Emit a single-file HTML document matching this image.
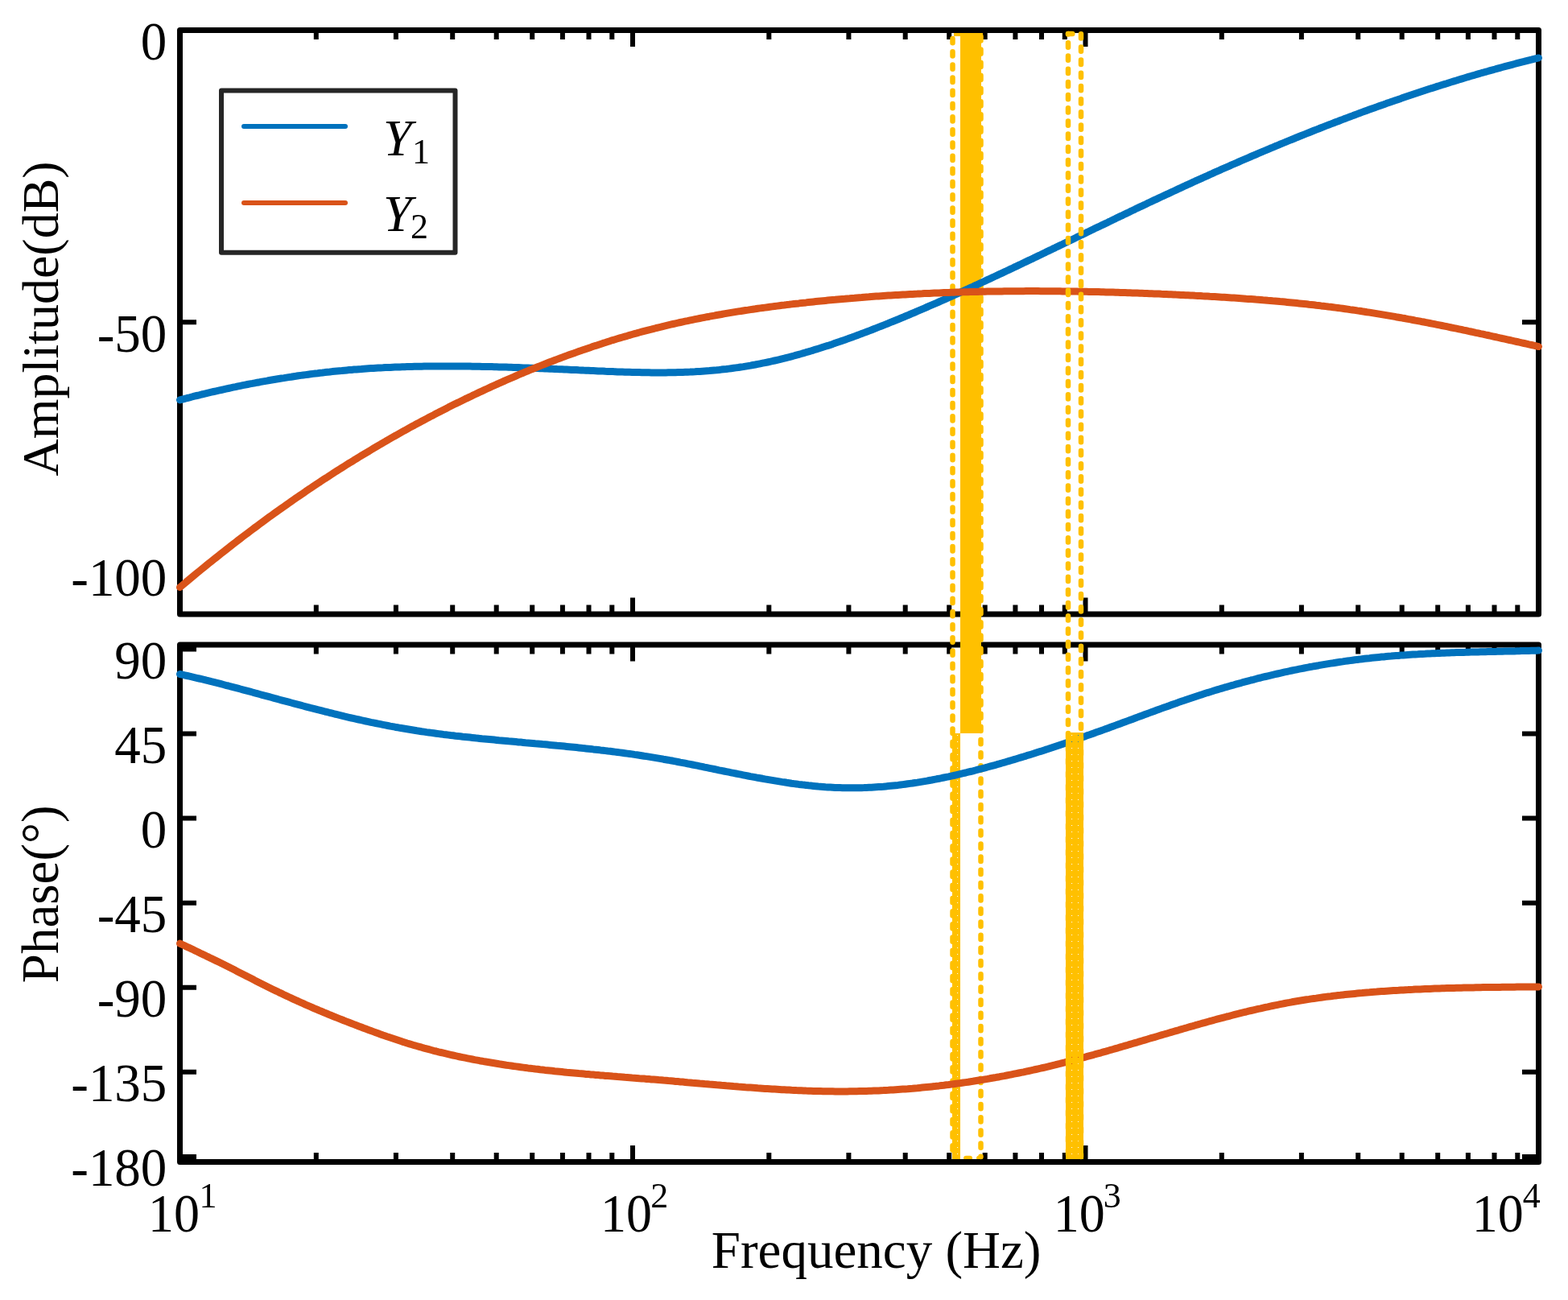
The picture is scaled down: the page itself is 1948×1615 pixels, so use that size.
<!DOCTYPE html>
<html><head><meta charset="utf-8"><title>Bode plot</title>
<style>html,body{margin:0;padding:0;background:#fff;}svg{display:block;}text{font-family:"Liberation Serif","Times New Roman",serif;fill:#000;}</style></head><body>
<svg width="1948" height="1615" viewBox="0 0 1948 1615">
<defs><pattern id="holes" x="0" y="0" width="8.1" height="8" patternUnits="userSpaceOnUse"><rect width="8.1" height="8" fill="#fff"/><rect x="0" y="0" width="1" height="1" fill="#000"/></pattern><mask id="mA" maskUnits="userSpaceOnUse" x="0" y="0" width="1948" height="1615"><rect x="0" y="0" width="1948" height="1615" fill="#fff"/><g transform="translate(1189 913)"><rect x="0" y="0" width="2" height="530" fill="url(#holes)"/></g></mask><mask id="mB" maskUnits="userSpaceOnUse" x="0" y="0" width="1948" height="1615"><rect x="0" y="0" width="1948" height="1615" fill="#fff"/><g transform="translate(1331 913)"><rect x="0" y="0" width="10" height="530" fill="url(#holes)"/></g></mask></defs>
<rect x="0" y="0" width="1948" height="1615" fill="#fff"/>
<g stroke="#FFC000" stroke-width="6.5" stroke-linecap="round" fill="none"><path d="M1200.3 1439H1204.8M1216.3 1439H1218.5"/></g>
<path d="M223.5 37.5V58.0M223.5 763.0V742.5M392.8 37.5V49.0M392.8 763.0V751.5M491.9 37.5V49.0M491.9 763.0V751.5M562.2 37.5V49.0M562.2 763.0V751.5M616.7 37.5V49.0M616.7 763.0V751.5M661.2 37.5V49.0M661.2 763.0V751.5M698.9 37.5V49.0M698.9 763.0V751.5M731.5 37.5V49.0M731.5 763.0V751.5M760.3 37.5V49.0M760.3 763.0V751.5M786.0 37.5V58.0M786.0 763.0V742.5M955.3 37.5V49.0M955.3 763.0V751.5M1054.4 37.5V49.0M1054.4 763.0V751.5M1124.7 37.5V49.0M1124.7 763.0V751.5M1179.2 37.5V49.0M1179.2 763.0V751.5M1223.7 37.5V49.0M1223.7 763.0V751.5M1261.4 37.5V49.0M1261.4 763.0V751.5M1294.0 37.5V49.0M1294.0 763.0V751.5M1322.8 37.5V49.0M1322.8 763.0V751.5M1348.5 37.5V58.0M1348.5 763.0V742.5M1517.8 37.5V49.0M1517.8 763.0V751.5M1616.9 37.5V49.0M1616.9 763.0V751.5M1687.2 37.5V49.0M1687.2 763.0V751.5M1741.7 37.5V49.0M1741.7 763.0V751.5M1786.2 37.5V49.0M1786.2 763.0V751.5M1823.9 37.5V49.0M1823.9 763.0V751.5M1856.5 37.5V49.0M1856.5 763.0V751.5M1885.3 37.5V49.0M1885.3 763.0V751.5M1911.0 37.5V58.0M1911.0 763.0V742.5M223.5 801.0V821.5M223.5 1443.5V1423.0M392.8 801.0V812.5M392.8 1443.5V1432.0M491.9 801.0V812.5M491.9 1443.5V1432.0M562.2 801.0V812.5M562.2 1443.5V1432.0M616.7 801.0V812.5M616.7 1443.5V1432.0M661.2 801.0V812.5M661.2 1443.5V1432.0M698.9 801.0V812.5M698.9 1443.5V1432.0M731.5 801.0V812.5M731.5 1443.5V1432.0M760.3 801.0V812.5M760.3 1443.5V1432.0M786.0 801.0V821.5M786.0 1443.5V1423.0M955.3 801.0V812.5M955.3 1443.5V1432.0M1054.4 801.0V812.5M1054.4 1443.5V1432.0M1124.7 801.0V812.5M1124.7 1443.5V1432.0M1179.2 801.0V812.5M1179.2 1443.5V1432.0M1223.7 801.0V812.5M1223.7 1443.5V1432.0M1261.4 801.0V812.5M1261.4 1443.5V1432.0M1294.0 801.0V812.5M1294.0 1443.5V1432.0M1322.8 801.0V812.5M1322.8 1443.5V1432.0M1348.5 801.0V821.5M1348.5 1443.5V1423.0M1517.8 801.0V812.5M1517.8 1443.5V1432.0M1616.9 801.0V812.5M1616.9 1443.5V1432.0M1687.2 801.0V812.5M1687.2 1443.5V1432.0M1741.7 801.0V812.5M1741.7 1443.5V1432.0M1786.2 801.0V812.5M1786.2 1443.5V1432.0M1823.9 801.0V812.5M1823.9 1443.5V1432.0M1856.5 801.0V812.5M1856.5 1443.5V1432.0M1885.3 801.0V812.5M1885.3 1443.5V1432.0M1911.0 801.0V821.5M1911.0 1443.5V1423.0M223.5 37.5H244.0M1911.5 37.5H1891.0M223.5 400.3H244.0M1911.5 400.3H1891.0M223.5 763.0H244.0M1911.5 763.0H1891.0M223.5 806.5H244.0M1911.5 806.5H1891.0M223.5 911.6H244.0M1911.5 911.6H1891.0M223.5 1016.6H244.0M1911.5 1016.6H1891.0M223.5 1121.7H244.0M1911.5 1121.7H1891.0M223.5 1226.8H244.0M1911.5 1226.8H1891.0M223.5 1331.8H244.0M1911.5 1331.8H1891.0M223.5 1436.9H244.0M1911.5 1436.9H1891.0" stroke="#000" stroke-width="6" fill="none"/>
<rect x="223.5" y="37.5" width="1688.0" height="725.5" fill="none" stroke="#000" stroke-width="7" stroke-linejoin="round"/>
<rect x="223.5" y="801.0" width="1688.0" height="642.5" fill="none" stroke="#000" stroke-width="7" stroke-linejoin="round"/>
<g fill="#FFC000"><rect x="1193" y="41" width="26" height="870"/><rect x="1185" y="41" width="36" height="4"/></g>
<rect x="1183" y="911" width="10" height="529" fill="#FFC000" mask="url(#mA)"/>
<g stroke="#FFC000" stroke-dasharray="5.3 10.88" stroke-linecap="round" stroke-width="6.5" fill="none"><path d="M1183.5 42L1183.5 1437" stroke-dashoffset="10.11"/><path d="M1218.5 42L1218.5 1437" stroke-dashoffset="12.91"/></g>
<g fill="none" stroke-width="9" stroke-linecap="round" stroke-linejoin="round">
<path d="M223.5 496.9 L226.5 496.1 L229.5 495.3 L232.5 494.5 L235.5 493.8 L238.5 493.0 L241.5 492.2 L244.5 491.5 L247.5 490.8 L250.5 490.0 L253.5 489.3 L256.5 488.6 L259.5 487.9 L262.5 487.2 L265.5 486.5 L268.6 485.8 L271.6 485.1 L274.6 484.5 L277.6 483.8 L280.6 483.1 L283.6 482.5 L286.6 481.8 L289.6 481.2 L292.6 480.6 L295.6 479.9 L298.6 479.3 L301.6 478.7 L304.6 478.1 L307.6 477.5 L310.6 476.9 L313.6 476.4 L316.6 475.8 L319.6 475.2 L322.6 474.7 L325.6 474.1 L328.6 473.6 L331.6 473.1 L334.6 472.5 L337.6 472.0 L340.6 471.5 L343.6 471.0 L346.6 470.5 L349.6 470.0 L352.7 469.6 L355.7 469.1 L358.7 468.6 L361.7 468.2 L364.7 467.7 L367.7 467.3 L370.7 466.8 L373.7 466.4 L376.7 466.0 L379.7 465.6 L382.7 465.2 L385.7 464.8 L388.7 464.4 L391.7 464.0 L394.7 463.7 L397.7 463.3 L400.7 463.0 L403.7 462.6 L406.7 462.3 L409.7 462.0 L412.7 461.6 L415.7 461.3 L418.7 461.0 L421.7 460.7 L424.7 460.5 L427.7 460.2 L430.7 459.9 L433.7 459.6 L436.8 459.4 L439.8 459.1 L442.8 458.9 L445.8 458.7 L448.8 458.5 L451.8 458.2 L454.8 458.0 L457.8 457.8 L460.8 457.6 L463.8 457.5 L466.8 457.3 L469.8 457.1 L472.8 456.9 L475.8 456.8 L478.8 456.6 L481.8 456.5 L484.8 456.4 L487.8 456.2 L490.8 456.1 L493.8 456.0 L496.8 455.9 L499.8 455.8 L502.8 455.7 L505.8 455.6 L508.8 455.5 L511.8 455.4 L514.8 455.3 L517.8 455.3 L520.9 455.2 L523.9 455.2 L526.9 455.1 L529.9 455.1 L532.9 455.0 L535.9 455.0 L538.9 455.0 L541.9 454.9 L544.9 454.9 L547.9 454.9 L550.9 454.9 L553.9 454.9 L556.9 454.9 L559.9 454.9 L562.9 454.9 L565.9 454.9 L568.9 454.9 L571.9 455.0 L574.9 455.0 L577.9 455.0 L580.9 455.1 L583.9 455.1 L586.9 455.2 L589.9 455.2 L592.9 455.3 L595.9 455.3 L598.9 455.4 L601.9 455.4 L605.0 455.5 L608.0 455.6 L611.0 455.6 L614.0 455.7 L617.0 455.8 L620.0 455.9 L623.0 456.0 L626.0 456.0 L629.0 456.1 L632.0 456.2 L635.0 456.3 L638.0 456.4 L641.0 456.5 L644.0 456.6 L647.0 456.7 L650.0 456.9 L653.0 457.0 L656.0 457.1 L659.0 457.2 L662.0 457.3 L665.0 457.4 L668.0 457.5 L671.0 457.7 L674.0 457.8 L677.0 457.9 L680.0 458.0 L683.0 458.2 L686.0 458.3 L689.1 458.4 L692.1 458.6 L695.1 458.7 L698.1 458.8 L701.1 459.0 L704.1 459.1 L707.1 459.2 L710.1 459.4 L713.1 459.5 L716.1 459.6 L719.1 459.8 L722.1 459.9 L725.1 460.1 L728.1 460.2 L731.1 460.3 L734.1 460.5 L737.1 460.6 L740.1 460.7 L743.1 460.9 L746.1 461.0 L749.1 461.1 L752.1 461.3 L755.1 461.4 L758.1 461.5 L761.1 461.6 L764.1 461.7 L767.1 461.9 L770.1 462.0 L773.2 462.1 L776.2 462.2 L779.2 462.3 L782.2 462.3 L785.2 462.4 L788.2 462.5 L791.2 462.6 L794.2 462.6 L797.2 462.7 L800.2 462.8 L803.2 462.8 L806.2 462.8 L809.2 462.9 L812.2 462.9 L815.2 462.9 L818.2 462.9 L821.2 462.9 L824.2 462.9 L827.2 462.9 L830.2 462.8 L833.2 462.8 L836.2 462.7 L839.2 462.7 L842.2 462.6 L845.2 462.5 L848.2 462.4 L851.2 462.3 L854.2 462.2 L857.3 462.1 L860.3 461.9 L863.3 461.8 L866.3 461.6 L869.3 461.4 L872.3 461.2 L875.3 461.0 L878.3 460.8 L881.3 460.6 L884.3 460.3 L887.3 460.0 L890.3 459.8 L893.3 459.5 L896.3 459.1 L899.3 458.8 L902.3 458.5 L905.3 458.1 L908.3 457.7 L911.3 457.3 L914.3 456.9 L917.3 456.5 L920.3 456.0 L923.3 455.6 L926.3 455.1 L929.3 454.6 L932.3 454.1 L935.3 453.5 L938.3 453.0 L941.4 452.4 L944.4 451.8 L947.4 451.2 L950.4 450.6 L953.4 450.0 L956.4 449.3 L959.4 448.7 L962.4 448.0 L965.4 447.3 L968.4 446.6 L971.4 445.8 L974.4 445.1 L977.4 444.3 L980.4 443.6 L983.4 442.8 L986.4 442.0 L989.4 441.1 L992.4 440.3 L995.4 439.5 L998.4 438.6 L1001.4 437.7 L1004.4 436.9 L1007.4 436.0 L1010.4 435.1 L1013.4 434.1 L1016.4 433.2 L1019.4 432.3 L1022.4 431.3 L1025.5 430.3 L1028.5 429.4 L1031.5 428.4 L1034.5 427.4 L1037.5 426.3 L1040.5 425.3 L1043.5 424.3 L1046.5 423.2 L1049.5 422.2 L1052.5 421.1 L1055.5 420.0 L1058.5 419.0 L1061.5 417.9 L1064.5 416.8 L1067.5 415.6 L1070.5 414.5 L1073.5 413.4 L1076.5 412.3 L1079.5 411.1 L1082.5 410.0 L1085.5 408.8 L1088.5 407.6 L1091.5 406.4 L1094.5 405.3 L1097.5 404.1 L1100.5 402.9 L1103.5 401.7 L1106.5 400.4 L1109.5 399.2 L1112.6 398.0 L1115.6 396.8 L1118.6 395.5 L1121.6 394.3 L1124.6 393.0 L1127.6 391.8 L1130.6 390.5 L1133.6 389.2 L1136.6 388.0 L1139.6 386.7 L1142.6 385.4 L1145.6 384.1 L1148.6 382.8 L1151.6 381.5 L1154.6 380.2 L1157.6 378.9 L1160.6 377.6 L1163.6 376.3 L1166.6 375.0 L1169.6 373.7 L1172.6 372.3 L1175.6 371.0 L1178.6 369.7 L1181.6 368.3 L1184.6 367.0 L1187.6 365.6 L1190.6 364.3 L1193.6 362.9 L1196.7 361.5 L1199.7 360.2 L1202.7 358.8 L1205.7 357.4 L1208.7 356.1 L1211.7 354.7 L1214.7 353.3 L1217.7 351.9 L1220.7 350.5 L1223.7 349.1 L1226.7 347.7 L1229.7 346.3 L1232.7 344.9 L1235.7 343.5 L1238.7 342.1 L1241.7 340.7 L1244.7 339.3 L1247.7 337.9 L1250.7 336.5 L1253.7 335.1 L1256.7 333.7 L1259.7 332.2 L1262.7 330.8 L1265.7 329.4 L1268.7 328.0 L1271.7 326.5 L1274.7 325.1 L1277.7 323.7 L1280.8 322.2 L1283.8 320.8 L1286.8 319.3 L1289.8 317.9 L1292.8 316.5 L1295.8 315.0 L1298.8 313.6 L1301.8 312.1 L1304.8 310.7 L1307.8 309.2 L1310.8 307.8 L1313.8 306.3 L1316.8 304.9 L1319.8 303.5 L1322.8 302.0 L1325.8 300.6 L1328.8 299.1 L1331.8 297.7 L1334.8 296.2 L1337.8 294.7 L1340.8 293.3 L1343.8 291.8 L1346.8 290.4 L1349.8 288.9 L1352.8 287.5 L1355.8 286.0 L1358.8 284.6 L1361.8 283.1 L1364.9 281.7 L1367.9 280.2 L1370.9 278.8 L1373.9 277.4 L1376.9 275.9 L1379.9 274.5 L1382.9 273.0 L1385.9 271.6 L1388.9 270.1 L1391.9 268.7 L1394.9 267.3 L1397.9 265.8 L1400.9 264.4 L1403.9 262.9 L1406.9 261.5 L1409.9 260.1 L1412.9 258.6 L1415.9 257.2 L1418.9 255.8 L1421.9 254.4 L1424.9 252.9 L1427.9 251.5 L1430.9 250.1 L1433.9 248.7 L1436.9 247.3 L1439.9 245.9 L1442.9 244.5 L1445.9 243.1 L1449.0 241.7 L1452.0 240.3 L1455.0 238.9 L1458.0 237.5 L1461.0 236.1 L1464.0 234.7 L1467.0 233.3 L1470.0 231.9 L1473.0 230.5 L1476.0 229.2 L1479.0 227.8 L1482.0 226.4 L1485.0 225.0 L1488.0 223.7 L1491.0 222.3 L1494.0 221.0 L1497.0 219.6 L1500.0 218.3 L1503.0 216.9 L1506.0 215.6 L1509.0 214.2 L1512.0 212.9 L1515.0 211.6 L1518.0 210.2 L1521.0 208.9 L1524.0 207.6 L1527.0 206.3 L1530.0 204.9 L1533.1 203.6 L1536.1 202.3 L1539.1 201.0 L1542.1 199.7 L1545.1 198.4 L1548.1 197.1 L1551.1 195.8 L1554.1 194.5 L1557.1 193.2 L1560.1 192.0 L1563.1 190.7 L1566.1 189.4 L1569.1 188.1 L1572.1 186.9 L1575.1 185.6 L1578.1 184.3 L1581.1 183.1 L1584.1 181.8 L1587.1 180.6 L1590.1 179.3 L1593.1 178.1 L1596.1 176.9 L1599.1 175.6 L1602.1 174.4 L1605.1 173.2 L1608.1 172.0 L1611.1 170.7 L1614.1 169.5 L1617.2 168.3 L1620.2 167.1 L1623.2 165.9 L1626.2 164.7 L1629.2 163.5 L1632.2 162.3 L1635.2 161.1 L1638.2 160.0 L1641.2 158.8 L1644.2 157.6 L1647.2 156.4 L1650.2 155.3 L1653.2 154.1 L1656.2 153.0 L1659.2 151.8 L1662.2 150.7 L1665.2 149.5 L1668.2 148.4 L1671.2 147.2 L1674.2 146.1 L1677.2 145.0 L1680.2 143.9 L1683.2 142.7 L1686.2 141.6 L1689.2 140.5 L1692.2 139.4 L1695.2 138.3 L1698.2 137.2 L1701.3 136.1 L1704.3 135.0 L1707.3 134.0 L1710.3 132.9 L1713.3 131.8 L1716.3 130.7 L1719.3 129.7 L1722.3 128.6 L1725.3 127.6 L1728.3 126.5 L1731.3 125.5 L1734.3 124.4 L1737.3 123.4 L1740.3 122.4 L1743.3 121.3 L1746.3 120.3 L1749.3 119.3 L1752.3 118.3 L1755.3 117.3 L1758.3 116.3 L1761.3 115.3 L1764.3 114.3 L1767.3 113.3 L1770.3 112.3 L1773.3 111.3 L1776.3 110.3 L1779.3 109.4 L1782.3 108.4 L1785.4 107.4 L1788.4 106.5 L1791.4 105.5 L1794.4 104.6 L1797.4 103.7 L1800.4 102.7 L1803.4 101.8 L1806.4 100.9 L1809.4 100.0 L1812.4 99.0 L1815.4 98.1 L1818.4 97.2 L1821.4 96.3 L1824.4 95.4 L1827.4 94.5 L1830.4 93.7 L1833.4 92.8 L1836.4 91.9 L1839.4 91.0 L1842.4 90.2 L1845.4 89.3 L1848.4 88.5 L1851.4 87.6 L1854.4 86.8 L1857.4 86.0 L1860.4 85.1 L1863.4 84.3 L1866.4 83.5 L1869.5 82.7 L1872.5 81.9 L1875.5 81.1 L1878.5 80.3 L1881.5 79.5 L1884.5 78.7 L1887.5 77.9 L1890.5 77.1 L1893.5 76.4 L1896.5 75.6 L1899.5 74.8 L1902.5 74.1 L1905.5 73.3 L1908.5 72.6 L1911.5 71.9" stroke="#0072BD"/>
<path d="M223.5 729.6 L226.5 727.1 L229.5 724.6 L232.5 722.0 L235.5 719.5 L238.5 717.0 L241.5 714.5 L244.5 712.1 L247.5 709.6 L250.5 707.1 L253.5 704.7 L256.5 702.2 L259.5 699.8 L262.5 697.4 L265.5 695.0 L268.6 692.6 L271.6 690.2 L274.6 687.8 L277.6 685.4 L280.6 683.1 L283.6 680.7 L286.6 678.4 L289.6 676.0 L292.6 673.7 L295.6 671.4 L298.6 669.1 L301.6 666.8 L304.6 664.5 L307.6 662.3 L310.6 660.0 L313.6 657.7 L316.6 655.5 L319.6 653.3 L322.6 651.0 L325.6 648.8 L328.6 646.6 L331.6 644.4 L334.6 642.2 L337.6 640.1 L340.6 637.9 L343.6 635.8 L346.6 633.6 L349.6 631.5 L352.7 629.3 L355.7 627.2 L358.7 625.1 L361.7 623.0 L364.7 620.9 L367.7 618.8 L370.7 616.8 L373.7 614.7 L376.7 612.7 L379.7 610.6 L382.7 608.6 L385.7 606.6 L388.7 604.5 L391.7 602.5 L394.7 600.5 L397.7 598.6 L400.7 596.6 L403.7 594.6 L406.7 592.7 L409.7 590.7 L412.7 588.8 L415.7 586.8 L418.7 584.9 L421.7 583.0 L424.7 581.1 L427.7 579.2 L430.7 577.3 L433.7 575.4 L436.8 573.6 L439.8 571.7 L442.8 569.9 L445.8 568.0 L448.8 566.2 L451.8 564.4 L454.8 562.6 L457.8 560.8 L460.8 559.0 L463.8 557.2 L466.8 555.4 L469.8 553.6 L472.8 551.9 L475.8 550.1 L478.8 548.4 L481.8 546.6 L484.8 544.9 L487.8 543.2 L490.8 541.5 L493.8 539.8 L496.8 538.1 L499.8 536.4 L502.8 534.8 L505.8 533.1 L508.8 531.4 L511.8 529.8 L514.8 528.2 L517.8 526.5 L520.9 524.9 L523.9 523.3 L526.9 521.7 L529.9 520.1 L532.9 518.5 L535.9 516.9 L538.9 515.4 L541.9 513.8 L544.9 512.3 L547.9 510.7 L550.9 509.2 L553.9 507.7 L556.9 506.1 L559.9 504.6 L562.9 503.1 L565.9 501.6 L568.9 500.2 L571.9 498.7 L574.9 497.2 L577.9 495.7 L580.9 494.3 L583.9 492.9 L586.9 491.4 L589.9 490.0 L592.9 488.6 L595.9 487.2 L598.9 485.8 L601.9 484.4 L605.0 483.0 L608.0 481.6 L611.0 480.2 L614.0 478.9 L617.0 477.5 L620.0 476.2 L623.0 474.8 L626.0 473.5 L629.0 472.2 L632.0 470.9 L635.0 469.6 L638.0 468.3 L641.0 467.0 L644.0 465.7 L647.0 464.4 L650.0 463.2 L653.0 461.9 L656.0 460.7 L659.0 459.4 L662.0 458.2 L665.0 457.0 L668.0 455.8 L671.0 454.6 L674.0 453.4 L677.0 452.2 L680.0 451.0 L683.0 449.8 L686.0 448.7 L689.1 447.5 L692.1 446.4 L695.1 445.3 L698.1 444.1 L701.1 443.0 L704.1 441.9 L707.1 440.8 L710.1 439.7 L713.1 438.7 L716.1 437.6 L719.1 436.5 L722.1 435.5 L725.1 434.4 L728.1 433.4 L731.1 432.4 L734.1 431.4 L737.1 430.3 L740.1 429.4 L743.1 428.4 L746.1 427.4 L749.1 426.4 L752.1 425.5 L755.1 424.5 L758.1 423.6 L761.1 422.6 L764.1 421.7 L767.1 420.8 L770.1 419.9 L773.2 419.0 L776.2 418.1 L779.2 417.3 L782.2 416.4 L785.2 415.5 L788.2 414.7 L791.2 413.9 L794.2 413.0 L797.2 412.2 L800.2 411.4 L803.2 410.6 L806.2 409.8 L809.2 409.1 L812.2 408.3 L815.2 407.5 L818.2 406.8 L821.2 406.1 L824.2 405.3 L827.2 404.6 L830.2 403.9 L833.2 403.2 L836.2 402.5 L839.2 401.8 L842.2 401.2 L845.2 400.5 L848.2 399.8 L851.2 399.2 L854.2 398.6 L857.3 397.9 L860.3 397.3 L863.3 396.7 L866.3 396.1 L869.3 395.5 L872.3 394.9 L875.3 394.3 L878.3 393.7 L881.3 393.2 L884.3 392.6 L887.3 392.1 L890.3 391.5 L893.3 391.0 L896.3 390.5 L899.3 389.9 L902.3 389.4 L905.3 388.9 L908.3 388.4 L911.3 387.9 L914.3 387.4 L917.3 386.9 L920.3 386.5 L923.3 386.0 L926.3 385.5 L929.3 385.1 L932.3 384.6 L935.3 384.2 L938.3 383.8 L941.4 383.3 L944.4 382.9 L947.4 382.5 L950.4 382.1 L953.4 381.7 L956.4 381.3 L959.4 380.9 L962.4 380.5 L965.4 380.1 L968.4 379.7 L971.4 379.3 L974.4 379.0 L977.4 378.6 L980.4 378.3 L983.4 377.9 L986.4 377.5 L989.4 377.2 L992.4 376.9 L995.4 376.5 L998.4 376.2 L1001.4 375.9 L1004.4 375.5 L1007.4 375.2 L1010.4 374.9 L1013.4 374.6 L1016.4 374.3 L1019.4 374.0 L1022.4 373.7 L1025.5 373.4 L1028.5 373.1 L1031.5 372.8 L1034.5 372.5 L1037.5 372.3 L1040.5 372.0 L1043.5 371.7 L1046.5 371.4 L1049.5 371.2 L1052.5 370.9 L1055.5 370.7 L1058.5 370.4 L1061.5 370.2 L1064.5 369.9 L1067.5 369.7 L1070.5 369.5 L1073.5 369.2 L1076.5 369.0 L1079.5 368.8 L1082.5 368.5 L1085.5 368.3 L1088.5 368.1 L1091.5 367.9 L1094.5 367.7 L1097.5 367.5 L1100.5 367.3 L1103.5 367.1 L1106.5 366.9 L1109.5 366.7 L1112.6 366.5 L1115.6 366.4 L1118.6 366.2 L1121.6 366.0 L1124.6 365.9 L1127.6 365.7 L1130.6 365.5 L1133.6 365.4 L1136.6 365.2 L1139.6 365.1 L1142.6 364.9 L1145.6 364.8 L1148.6 364.6 L1151.6 364.5 L1154.6 364.4 L1157.6 364.2 L1160.6 364.1 L1163.6 364.0 L1166.6 363.9 L1169.6 363.7 L1172.6 363.6 L1175.6 363.5 L1178.6 363.4 L1181.6 363.3 L1184.6 363.2 L1187.6 363.1 L1190.6 363.0 L1193.6 362.9 L1196.7 362.8 L1199.7 362.7 L1202.7 362.7 L1205.7 362.6 L1208.7 362.5 L1211.7 362.4 L1214.7 362.4 L1217.7 362.3 L1220.7 362.2 L1223.7 362.2 L1226.7 362.1 L1229.7 362.1 L1232.7 362.0 L1235.7 362.0 L1238.7 361.9 L1241.7 361.9 L1244.7 361.9 L1247.7 361.8 L1250.7 361.8 L1253.7 361.8 L1256.7 361.7 L1259.7 361.7 L1262.7 361.7 L1265.7 361.7 L1268.7 361.7 L1271.7 361.7 L1274.7 361.6 L1277.7 361.6 L1280.8 361.6 L1283.8 361.6 L1286.8 361.6 L1289.8 361.6 L1292.8 361.7 L1295.8 361.7 L1298.8 361.7 L1301.8 361.7 L1304.8 361.7 L1307.8 361.7 L1310.8 361.8 L1313.8 361.8 L1316.8 361.8 L1319.8 361.9 L1322.8 361.9 L1325.8 361.9 L1328.8 362.0 L1331.8 362.0 L1334.8 362.1 L1337.8 362.1 L1340.8 362.2 L1343.8 362.2 L1346.8 362.3 L1349.8 362.3 L1352.8 362.4 L1355.8 362.4 L1358.8 362.5 L1361.8 362.6 L1364.9 362.6 L1367.9 362.7 L1370.9 362.8 L1373.9 362.9 L1376.9 363.0 L1379.9 363.0 L1382.9 363.1 L1385.9 363.2 L1388.9 363.3 L1391.9 363.4 L1394.9 363.5 L1397.9 363.6 L1400.9 363.7 L1403.9 363.8 L1406.9 363.9 L1409.9 364.0 L1412.9 364.1 L1415.9 364.2 L1418.9 364.3 L1421.9 364.4 L1424.9 364.5 L1427.9 364.7 L1430.9 364.8 L1433.9 364.9 L1436.9 365.0 L1439.9 365.1 L1442.9 365.3 L1445.9 365.4 L1449.0 365.5 L1452.0 365.7 L1455.0 365.8 L1458.0 365.9 L1461.0 366.1 L1464.0 366.2 L1467.0 366.4 L1470.0 366.5 L1473.0 366.7 L1476.0 366.8 L1479.0 367.0 L1482.0 367.1 L1485.0 367.3 L1488.0 367.4 L1491.0 367.6 L1494.0 367.8 L1497.0 367.9 L1500.0 368.1 L1503.0 368.3 L1506.0 368.4 L1509.0 368.6 L1512.0 368.8 L1515.0 369.0 L1518.0 369.2 L1521.0 369.3 L1524.0 369.5 L1527.0 369.7 L1530.0 369.9 L1533.1 370.1 L1536.1 370.3 L1539.1 370.5 L1542.1 370.7 L1545.1 370.9 L1548.1 371.2 L1551.1 371.4 L1554.1 371.6 L1557.1 371.8 L1560.1 372.1 L1563.1 372.3 L1566.1 372.5 L1569.1 372.8 L1572.1 373.0 L1575.1 373.3 L1578.1 373.5 L1581.1 373.8 L1584.1 374.0 L1587.1 374.3 L1590.1 374.6 L1593.1 374.8 L1596.1 375.1 L1599.1 375.4 L1602.1 375.7 L1605.1 376.0 L1608.1 376.3 L1611.1 376.6 L1614.1 376.9 L1617.2 377.2 L1620.2 377.5 L1623.2 377.8 L1626.2 378.2 L1629.2 378.5 L1632.2 378.8 L1635.2 379.2 L1638.2 379.5 L1641.2 379.9 L1644.2 380.2 L1647.2 380.6 L1650.2 381.0 L1653.2 381.3 L1656.2 381.7 L1659.2 382.1 L1662.2 382.5 L1665.2 382.9 L1668.2 383.3 L1671.2 383.7 L1674.2 384.1 L1677.2 384.6 L1680.2 385.0 L1683.2 385.4 L1686.2 385.9 L1689.2 386.3 L1692.2 386.8 L1695.2 387.2 L1698.2 387.7 L1701.3 388.1 L1704.3 388.6 L1707.3 389.1 L1710.3 389.6 L1713.3 390.1 L1716.3 390.6 L1719.3 391.1 L1722.3 391.6 L1725.3 392.1 L1728.3 392.6 L1731.3 393.1 L1734.3 393.7 L1737.3 394.2 L1740.3 394.7 L1743.3 395.3 L1746.3 395.8 L1749.3 396.4 L1752.3 396.9 L1755.3 397.5 L1758.3 398.1 L1761.3 398.6 L1764.3 399.2 L1767.3 399.8 L1770.3 400.3 L1773.3 400.9 L1776.3 401.5 L1779.3 402.1 L1782.3 402.7 L1785.4 403.3 L1788.4 403.9 L1791.4 404.5 L1794.4 405.1 L1797.4 405.7 L1800.4 406.3 L1803.4 407.0 L1806.4 407.6 L1809.4 408.2 L1812.4 408.8 L1815.4 409.4 L1818.4 410.1 L1821.4 410.7 L1824.4 411.4 L1827.4 412.0 L1830.4 412.6 L1833.4 413.3 L1836.4 413.9 L1839.4 414.6 L1842.4 415.2 L1845.4 415.9 L1848.4 416.5 L1851.4 417.2 L1854.4 417.8 L1857.4 418.5 L1860.4 419.2 L1863.4 419.8 L1866.4 420.5 L1869.5 421.1 L1872.5 421.8 L1875.5 422.5 L1878.5 423.2 L1881.5 423.8 L1884.5 424.5 L1887.5 425.2 L1890.5 425.8 L1893.5 426.5 L1896.5 427.2 L1899.5 427.9 L1902.5 428.5 L1905.5 429.2 L1908.5 429.9 L1911.5 430.6" stroke="#D95319"/>
<path d="M223.5 837.5 L226.5 838.1 L229.5 838.8 L232.5 839.5 L235.5 840.2 L238.5 840.9 L241.5 841.6 L244.5 842.3 L247.5 843.0 L250.5 843.7 L253.5 844.4 L256.5 845.2 L259.5 845.9 L262.5 846.7 L265.5 847.4 L268.6 848.2 L271.6 848.9 L274.6 849.7 L277.6 850.5 L280.6 851.3 L283.6 852.0 L286.6 852.8 L289.6 853.6 L292.6 854.4 L295.6 855.2 L298.6 856.0 L301.6 856.8 L304.6 857.6 L307.6 858.4 L310.6 859.2 L313.6 860.0 L316.6 860.9 L319.6 861.7 L322.6 862.5 L325.6 863.3 L328.6 864.1 L331.6 864.9 L334.6 865.7 L337.6 866.5 L340.6 867.4 L343.6 868.2 L346.6 869.0 L349.6 869.8 L352.7 870.6 L355.7 871.4 L358.7 872.2 L361.7 873.0 L364.7 873.8 L367.7 874.6 L370.7 875.4 L373.7 876.2 L376.7 877.0 L379.7 877.8 L382.7 878.6 L385.7 879.4 L388.7 880.1 L391.7 880.9 L394.7 881.7 L397.7 882.4 L400.7 883.2 L403.7 884.0 L406.7 884.7 L409.7 885.5 L412.7 886.2 L415.7 887.0 L418.7 887.7 L421.7 888.4 L424.7 889.1 L427.7 889.9 L430.7 890.6 L433.7 891.3 L436.8 892.0 L439.8 892.6 L442.8 893.3 L445.8 894.0 L448.8 894.7 L451.8 895.3 L454.8 896.0 L457.8 896.6 L460.8 897.3 L463.8 897.9 L466.8 898.5 L469.8 899.1 L472.8 899.7 L475.8 900.3 L478.8 900.9 L481.8 901.5 L484.8 902.1 L487.8 902.6 L490.8 903.2 L493.8 903.7 L496.8 904.3 L499.8 904.8 L502.8 905.3 L505.8 905.8 L508.8 906.3 L511.8 906.8 L514.8 907.3 L517.8 907.8 L520.9 908.2 L523.9 908.7 L526.9 909.1 L529.9 909.6 L532.9 910.0 L535.9 910.4 L538.9 910.8 L541.9 911.2 L544.9 911.6 L547.9 912.0 L550.9 912.4 L553.9 912.7 L556.9 913.1 L559.9 913.5 L562.9 913.8 L565.9 914.2 L568.9 914.5 L571.9 914.8 L574.9 915.2 L577.9 915.5 L580.9 915.8 L583.9 916.1 L586.9 916.4 L589.9 916.7 L592.9 917.1 L595.9 917.4 L598.9 917.7 L601.9 917.9 L605.0 918.2 L608.0 918.5 L611.0 918.8 L614.0 919.1 L617.0 919.4 L620.0 919.7 L623.0 919.9 L626.0 920.2 L629.0 920.5 L632.0 920.8 L635.0 921.0 L638.0 921.3 L641.0 921.6 L644.0 921.9 L647.0 922.1 L650.0 922.4 L653.0 922.7 L656.0 922.9 L659.0 923.2 L662.0 923.5 L665.0 923.8 L668.0 924.0 L671.0 924.3 L674.0 924.6 L677.0 924.8 L680.0 925.1 L683.0 925.4 L686.0 925.7 L689.1 926.0 L692.1 926.3 L695.1 926.5 L698.1 926.8 L701.1 927.1 L704.1 927.4 L707.1 927.7 L710.1 928.0 L713.1 928.3 L716.1 928.6 L719.1 928.9 L722.1 929.2 L725.1 929.6 L728.1 929.9 L731.1 930.2 L734.1 930.5 L737.1 930.9 L740.1 931.2 L743.1 931.5 L746.1 931.9 L749.1 932.2 L752.1 932.6 L755.1 933.0 L758.1 933.3 L761.1 933.7 L764.1 934.1 L767.1 934.5 L770.1 934.9 L773.2 935.3 L776.2 935.7 L779.2 936.1 L782.2 936.5 L785.2 936.9 L788.2 937.4 L791.2 937.8 L794.2 938.2 L797.2 938.7 L800.2 939.2 L803.2 939.6 L806.2 940.1 L809.2 940.6 L812.2 941.1 L815.2 941.6 L818.2 942.1 L821.2 942.6 L824.2 943.2 L827.2 943.7 L830.2 944.2 L833.2 944.8 L836.2 945.3 L839.2 945.9 L842.2 946.5 L845.2 947.1 L848.2 947.6 L851.2 948.2 L854.2 948.8 L857.3 949.4 L860.3 950.0 L863.3 950.6 L866.3 951.2 L869.3 951.8 L872.3 952.4 L875.3 953.1 L878.3 953.7 L881.3 954.3 L884.3 954.9 L887.3 955.5 L890.3 956.1 L893.3 956.8 L896.3 957.4 L899.3 958.0 L902.3 958.6 L905.3 959.2 L908.3 959.8 L911.3 960.4 L914.3 961.0 L917.3 961.6 L920.3 962.2 L923.3 962.8 L926.3 963.4 L929.3 964.0 L932.3 964.6 L935.3 965.1 L938.3 965.7 L941.4 966.3 L944.4 966.8 L947.4 967.3 L950.4 967.9 L953.4 968.4 L956.4 968.9 L959.4 969.4 L962.4 969.9 L965.4 970.4 L968.4 970.9 L971.4 971.4 L974.4 971.8 L977.4 972.3 L980.4 972.7 L983.4 973.2 L986.4 973.6 L989.4 974.0 L992.4 974.4 L995.4 974.7 L998.4 975.1 L1001.4 975.4 L1004.4 975.8 L1007.4 976.1 L1010.4 976.4 L1013.4 976.7 L1016.4 977.0 L1019.4 977.2 L1022.4 977.4 L1025.5 977.7 L1028.5 977.9 L1031.5 978.0 L1034.5 978.2 L1037.5 978.4 L1040.5 978.5 L1043.5 978.6 L1046.5 978.7 L1049.5 978.7 L1052.5 978.8 L1055.5 978.8 L1058.5 978.8 L1061.5 978.8 L1064.5 978.8 L1067.5 978.7 L1070.5 978.7 L1073.5 978.6 L1076.5 978.4 L1079.5 978.3 L1082.5 978.2 L1085.5 978.0 L1088.5 977.8 L1091.5 977.6 L1094.5 977.4 L1097.5 977.2 L1100.5 976.9 L1103.5 976.6 L1106.5 976.3 L1109.5 976.0 L1112.6 975.7 L1115.6 975.4 L1118.6 975.0 L1121.6 974.6 L1124.6 974.2 L1127.6 973.8 L1130.6 973.4 L1133.6 973.0 L1136.6 972.5 L1139.6 972.1 L1142.6 971.6 L1145.6 971.1 L1148.6 970.6 L1151.6 970.1 L1154.6 969.5 L1157.6 969.0 L1160.6 968.4 L1163.6 967.8 L1166.6 967.3 L1169.6 966.7 L1172.6 966.0 L1175.6 965.4 L1178.6 964.8 L1181.6 964.1 L1184.6 963.5 L1187.6 962.8 L1190.6 962.1 L1193.6 961.4 L1196.7 960.7 L1199.7 960.0 L1202.7 959.2 L1205.7 958.5 L1208.7 957.8 L1211.7 957.0 L1214.7 956.2 L1217.7 955.4 L1220.7 954.7 L1223.7 953.9 L1226.7 953.0 L1229.7 952.2 L1232.7 951.4 L1235.7 950.6 L1238.7 949.7 L1241.7 948.9 L1244.7 948.0 L1247.7 947.2 L1250.7 946.3 L1253.7 945.4 L1256.7 944.5 L1259.7 943.6 L1262.7 942.7 L1265.7 941.8 L1268.7 940.9 L1271.7 940.0 L1274.7 939.1 L1277.7 938.1 L1280.8 937.2 L1283.8 936.3 L1286.8 935.3 L1289.8 934.3 L1292.8 933.4 L1295.8 932.4 L1298.8 931.4 L1301.8 930.5 L1304.8 929.5 L1307.8 928.5 L1310.8 927.5 L1313.8 926.5 L1316.8 925.5 L1319.8 924.5 L1322.8 923.5 L1325.8 922.4 L1328.8 921.4 L1331.8 920.4 L1334.8 919.4 L1337.8 918.3 L1340.8 917.3 L1343.8 916.2 L1346.8 915.2 L1349.8 914.1 L1352.8 913.1 L1355.8 912.0 L1358.8 910.9 L1361.8 909.8 L1364.9 908.8 L1367.9 907.7 L1370.9 906.6 L1373.9 905.5 L1376.9 904.4 L1379.9 903.3 L1382.9 902.2 L1385.9 901.1 L1388.9 900.0 L1391.9 898.9 L1394.9 897.8 L1397.9 896.7 L1400.9 895.6 L1403.9 894.5 L1406.9 893.4 L1409.9 892.3 L1412.9 891.1 L1415.9 890.0 L1418.9 888.9 L1421.9 887.8 L1424.9 886.7 L1427.9 885.6 L1430.9 884.5 L1433.9 883.4 L1436.9 882.3 L1439.9 881.2 L1442.9 880.1 L1445.9 879.0 L1449.0 878.0 L1452.0 876.9 L1455.0 875.8 L1458.0 874.7 L1461.0 873.7 L1464.0 872.6 L1467.0 871.6 L1470.0 870.6 L1473.0 869.5 L1476.0 868.5 L1479.0 867.5 L1482.0 866.5 L1485.0 865.5 L1488.0 864.5 L1491.0 863.5 L1494.0 862.6 L1497.0 861.6 L1500.0 860.6 L1503.0 859.7 L1506.0 858.8 L1509.0 857.8 L1512.0 856.9 L1515.0 856.0 L1518.0 855.1 L1521.0 854.2 L1524.0 853.4 L1527.0 852.5 L1530.0 851.6 L1533.1 850.8 L1536.1 849.9 L1539.1 849.1 L1542.1 848.3 L1545.1 847.4 L1548.1 846.6 L1551.1 845.8 L1554.1 845.0 L1557.1 844.3 L1560.1 843.5 L1563.1 842.7 L1566.1 842.0 L1569.1 841.2 L1572.1 840.5 L1575.1 839.8 L1578.1 839.1 L1581.1 838.4 L1584.1 837.7 L1587.1 837.0 L1590.1 836.3 L1593.1 835.6 L1596.1 834.9 L1599.1 834.3 L1602.1 833.7 L1605.1 833.0 L1608.1 832.4 L1611.1 831.8 L1614.1 831.2 L1617.2 830.6 L1620.2 830.0 L1623.2 829.4 L1626.2 828.8 L1629.2 828.3 L1632.2 827.7 L1635.2 827.2 L1638.2 826.7 L1641.2 826.1 L1644.2 825.6 L1647.2 825.1 L1650.2 824.6 L1653.2 824.1 L1656.2 823.7 L1659.2 823.2 L1662.2 822.7 L1665.2 822.3 L1668.2 821.9 L1671.2 821.4 L1674.2 821.0 L1677.2 820.6 L1680.2 820.2 L1683.2 819.8 L1686.2 819.4 L1689.2 819.1 L1692.2 818.7 L1695.2 818.3 L1698.2 818.0 L1701.3 817.7 L1704.3 817.3 L1707.3 817.0 L1710.3 816.7 L1713.3 816.4 L1716.3 816.1 L1719.3 815.9 L1722.3 815.6 L1725.3 815.3 L1728.3 815.1 L1731.3 814.8 L1734.3 814.6 L1737.3 814.4 L1740.3 814.1 L1743.3 813.9 L1746.3 813.7 L1749.3 813.5 L1752.3 813.3 L1755.3 813.1 L1758.3 812.9 L1761.3 812.8 L1764.3 812.6 L1767.3 812.4 L1770.3 812.3 L1773.3 812.1 L1776.3 812.0 L1779.3 811.8 L1782.3 811.7 L1785.4 811.6 L1788.4 811.4 L1791.4 811.3 L1794.4 811.2 L1797.4 811.1 L1800.4 811.0 L1803.4 810.8 L1806.4 810.7 L1809.4 810.6 L1812.4 810.5 L1815.4 810.5 L1818.4 810.4 L1821.4 810.3 L1824.4 810.2 L1827.4 810.1 L1830.4 810.0 L1833.4 810.0 L1836.4 809.9 L1839.4 809.8 L1842.4 809.7 L1845.4 809.7 L1848.4 809.6 L1851.4 809.5 L1854.4 809.4 L1857.4 809.4 L1860.4 809.3 L1863.4 809.2 L1866.4 809.2 L1869.5 809.1 L1872.5 809.1 L1875.5 809.0 L1878.5 808.9 L1881.5 808.9 L1884.5 808.8 L1887.5 808.7 L1890.5 808.6 L1893.5 808.6 L1896.5 808.5 L1899.5 808.4 L1902.5 808.3 L1905.5 808.3 L1908.5 808.2 L1911.5 808.1" stroke="#0072BD"/>
<path d="M223.5 1172.1 L226.5 1173.5 L229.5 1174.9 L232.5 1176.3 L235.5 1177.7 L238.5 1179.1 L241.5 1180.6 L244.5 1182.0 L247.5 1183.4 L250.5 1184.9 L253.5 1186.3 L256.5 1187.8 L259.5 1189.2 L262.5 1190.7 L265.5 1192.1 L268.6 1193.6 L271.6 1195.1 L274.6 1196.6 L277.6 1198.1 L280.6 1199.6 L283.6 1201.1 L286.6 1202.6 L289.6 1204.1 L292.6 1205.6 L295.6 1207.2 L298.6 1208.7 L301.6 1210.2 L304.6 1211.7 L307.6 1213.3 L310.6 1214.8 L313.6 1216.3 L316.6 1217.9 L319.6 1219.4 L322.6 1220.9 L325.6 1222.4 L328.6 1223.9 L331.6 1225.4 L334.6 1226.9 L337.6 1228.4 L340.6 1229.9 L343.6 1231.3 L346.6 1232.8 L349.6 1234.2 L352.7 1235.7 L355.7 1237.1 L358.7 1238.5 L361.7 1239.9 L364.7 1241.3 L367.7 1242.7 L370.7 1244.0 L373.7 1245.4 L376.7 1246.7 L379.7 1248.1 L382.7 1249.4 L385.7 1250.7 L388.7 1252.0 L391.7 1253.3 L394.7 1254.5 L397.7 1255.8 L400.7 1257.0 L403.7 1258.3 L406.7 1259.5 L409.7 1260.8 L412.7 1262.0 L415.7 1263.2 L418.7 1264.4 L421.7 1265.6 L424.7 1266.8 L427.7 1268.0 L430.7 1269.1 L433.7 1270.3 L436.8 1271.5 L439.8 1272.6 L442.8 1273.8 L445.8 1274.9 L448.8 1276.0 L451.8 1277.2 L454.8 1278.3 L457.8 1279.4 L460.8 1280.5 L463.8 1281.6 L466.8 1282.7 L469.8 1283.8 L472.8 1284.9 L475.8 1286.0 L478.8 1287.0 L481.8 1288.1 L484.8 1289.1 L487.8 1290.1 L490.8 1291.1 L493.8 1292.1 L496.8 1293.1 L499.8 1294.1 L502.8 1295.0 L505.8 1296.0 L508.8 1296.9 L511.8 1297.8 L514.8 1298.7 L517.8 1299.5 L520.9 1300.4 L523.9 1301.2 L526.9 1302.1 L529.9 1302.9 L532.9 1303.7 L535.9 1304.5 L538.9 1305.3 L541.9 1306.0 L544.9 1306.8 L547.9 1307.5 L550.9 1308.2 L553.9 1308.9 L556.9 1309.6 L559.9 1310.3 L562.9 1311.0 L565.9 1311.7 L568.9 1312.3 L571.9 1313.0 L574.9 1313.6 L577.9 1314.2 L580.9 1314.8 L583.9 1315.4 L586.9 1316.0 L589.9 1316.6 L592.9 1317.1 L595.9 1317.7 L598.9 1318.2 L601.9 1318.8 L605.0 1319.3 L608.0 1319.8 L611.0 1320.3 L614.0 1320.8 L617.0 1321.3 L620.0 1321.8 L623.0 1322.2 L626.0 1322.7 L629.0 1323.2 L632.0 1323.6 L635.0 1324.0 L638.0 1324.5 L641.0 1324.9 L644.0 1325.3 L647.0 1325.7 L650.0 1326.1 L653.0 1326.5 L656.0 1326.9 L659.0 1327.2 L662.0 1327.6 L665.0 1328.0 L668.0 1328.3 L671.0 1328.7 L674.0 1329.0 L677.0 1329.4 L680.0 1329.7 L683.0 1330.0 L686.0 1330.3 L689.1 1330.7 L692.1 1331.0 L695.1 1331.3 L698.1 1331.6 L701.1 1331.9 L704.1 1332.2 L707.1 1332.4 L710.1 1332.7 L713.1 1333.0 L716.1 1333.3 L719.1 1333.6 L722.1 1333.8 L725.1 1334.1 L728.1 1334.4 L731.1 1334.6 L734.1 1334.9 L737.1 1335.1 L740.1 1335.4 L743.1 1335.6 L746.1 1335.9 L749.1 1336.1 L752.1 1336.4 L755.1 1336.6 L758.1 1336.8 L761.1 1337.1 L764.1 1337.3 L767.1 1337.6 L770.1 1337.8 L773.2 1338.0 L776.2 1338.3 L779.2 1338.5 L782.2 1338.7 L785.2 1339.0 L788.2 1339.2 L791.2 1339.4 L794.2 1339.7 L797.2 1339.9 L800.2 1340.1 L803.2 1340.4 L806.2 1340.6 L809.2 1340.9 L812.2 1341.1 L815.2 1341.3 L818.2 1341.6 L821.2 1341.8 L824.2 1342.1 L827.2 1342.3 L830.2 1342.6 L833.2 1342.8 L836.2 1343.1 L839.2 1343.4 L842.2 1343.6 L845.2 1343.9 L848.2 1344.1 L851.2 1344.4 L854.2 1344.7 L857.3 1344.9 L860.3 1345.2 L863.3 1345.4 L866.3 1345.7 L869.3 1346.0 L872.3 1346.2 L875.3 1346.5 L878.3 1346.7 L881.3 1347.0 L884.3 1347.2 L887.3 1347.5 L890.3 1347.8 L893.3 1348.0 L896.3 1348.3 L899.3 1348.5 L902.3 1348.8 L905.3 1349.0 L908.3 1349.2 L911.3 1349.5 L914.3 1349.7 L917.3 1350.0 L920.3 1350.2 L923.3 1350.4 L926.3 1350.7 L929.3 1350.9 L932.3 1351.1 L935.3 1351.3 L938.3 1351.5 L941.4 1351.8 L944.4 1352.0 L947.4 1352.2 L950.4 1352.4 L953.4 1352.6 L956.4 1352.8 L959.4 1353.0 L962.4 1353.1 L965.4 1353.3 L968.4 1353.5 L971.4 1353.7 L974.4 1353.8 L977.4 1354.0 L980.4 1354.1 L983.4 1354.3 L986.4 1354.4 L989.4 1354.6 L992.4 1354.7 L995.4 1354.8 L998.4 1354.9 L1001.4 1355.1 L1004.4 1355.2 L1007.4 1355.3 L1010.4 1355.4 L1013.4 1355.4 L1016.4 1355.5 L1019.4 1355.6 L1022.4 1355.7 L1025.5 1355.7 L1028.5 1355.8 L1031.5 1355.8 L1034.5 1355.8 L1037.5 1355.9 L1040.5 1355.9 L1043.5 1355.9 L1046.5 1355.9 L1049.5 1355.9 L1052.5 1355.9 L1055.5 1355.8 L1058.5 1355.8 L1061.5 1355.8 L1064.5 1355.7 L1067.5 1355.6 L1070.5 1355.6 L1073.5 1355.5 L1076.5 1355.4 L1079.5 1355.3 L1082.5 1355.2 L1085.5 1355.1 L1088.5 1355.0 L1091.5 1354.9 L1094.5 1354.7 L1097.5 1354.6 L1100.5 1354.4 L1103.5 1354.3 L1106.5 1354.1 L1109.5 1353.9 L1112.6 1353.7 L1115.6 1353.5 L1118.6 1353.3 L1121.6 1353.1 L1124.6 1352.9 L1127.6 1352.7 L1130.6 1352.4 L1133.6 1352.2 L1136.6 1351.9 L1139.6 1351.7 L1142.6 1351.4 L1145.6 1351.1 L1148.6 1350.8 L1151.6 1350.5 L1154.6 1350.2 L1157.6 1349.9 L1160.6 1349.6 L1163.6 1349.2 L1166.6 1348.9 L1169.6 1348.5 L1172.6 1348.2 L1175.6 1347.8 L1178.6 1347.5 L1181.6 1347.1 L1184.6 1346.7 L1187.6 1346.3 L1190.6 1345.9 L1193.6 1345.5 L1196.7 1345.0 L1199.7 1344.6 L1202.7 1344.2 L1205.7 1343.7 L1208.7 1343.3 L1211.7 1342.8 L1214.7 1342.3 L1217.7 1341.8 L1220.7 1341.4 L1223.7 1340.9 L1226.7 1340.4 L1229.7 1339.8 L1232.7 1339.3 L1235.7 1338.8 L1238.7 1338.2 L1241.7 1337.7 L1244.7 1337.1 L1247.7 1336.6 L1250.7 1336.0 L1253.7 1335.4 L1256.7 1334.8 L1259.7 1334.2 L1262.7 1333.6 L1265.7 1333.0 L1268.7 1332.4 L1271.7 1331.8 L1274.7 1331.1 L1277.7 1330.5 L1280.8 1329.8 L1283.8 1329.2 L1286.8 1328.5 L1289.8 1327.8 L1292.8 1327.2 L1295.8 1326.5 L1298.8 1325.8 L1301.8 1325.1 L1304.8 1324.3 L1307.8 1323.6 L1310.8 1322.9 L1313.8 1322.1 L1316.8 1321.4 L1319.8 1320.6 L1322.8 1319.9 L1325.8 1319.1 L1328.8 1318.3 L1331.8 1317.6 L1334.8 1316.8 L1337.8 1316.0 L1340.8 1315.2 L1343.8 1314.4 L1346.8 1313.6 L1349.8 1312.7 L1352.8 1311.9 L1355.8 1311.1 L1358.8 1310.3 L1361.8 1309.4 L1364.9 1308.6 L1367.9 1307.8 L1370.9 1306.9 L1373.9 1306.1 L1376.9 1305.2 L1379.9 1304.3 L1382.9 1303.5 L1385.9 1302.6 L1388.9 1301.8 L1391.9 1300.9 L1394.9 1300.0 L1397.9 1299.1 L1400.9 1298.3 L1403.9 1297.4 L1406.9 1296.5 L1409.9 1295.6 L1412.9 1294.8 L1415.9 1293.9 L1418.9 1293.0 L1421.9 1292.1 L1424.9 1291.2 L1427.9 1290.3 L1430.9 1289.4 L1433.9 1288.6 L1436.9 1287.7 L1439.9 1286.8 L1442.9 1285.9 L1445.9 1285.0 L1449.0 1284.2 L1452.0 1283.3 L1455.0 1282.4 L1458.0 1281.5 L1461.0 1280.6 L1464.0 1279.8 L1467.0 1278.9 L1470.0 1278.0 L1473.0 1277.2 L1476.0 1276.3 L1479.0 1275.4 L1482.0 1274.6 L1485.0 1273.7 L1488.0 1272.9 L1491.0 1272.0 L1494.0 1271.2 L1497.0 1270.4 L1500.0 1269.5 L1503.0 1268.7 L1506.0 1267.9 L1509.0 1267.0 L1512.0 1266.2 L1515.0 1265.4 L1518.0 1264.6 L1521.0 1263.8 L1524.0 1263.0 L1527.0 1262.3 L1530.0 1261.5 L1533.1 1260.7 L1536.1 1259.9 L1539.1 1259.2 L1542.1 1258.4 L1545.1 1257.7 L1548.1 1257.0 L1551.1 1256.2 L1554.1 1255.5 L1557.1 1254.8 L1560.1 1254.1 L1563.1 1253.4 L1566.1 1252.8 L1569.1 1252.1 L1572.1 1251.4 L1575.1 1250.8 L1578.1 1250.1 L1581.1 1249.5 L1584.1 1248.9 L1587.1 1248.3 L1590.1 1247.7 L1593.1 1247.1 L1596.1 1246.5 L1599.1 1245.9 L1602.1 1245.4 L1605.1 1244.8 L1608.1 1244.3 L1611.1 1243.8 L1614.1 1243.3 L1617.2 1242.8 L1620.2 1242.3 L1623.2 1241.8 L1626.2 1241.4 L1629.2 1240.9 L1632.2 1240.5 L1635.2 1240.1 L1638.2 1239.6 L1641.2 1239.2 L1644.2 1238.8 L1647.2 1238.4 L1650.2 1238.0 L1653.2 1237.7 L1656.2 1237.3 L1659.2 1236.9 L1662.2 1236.6 L1665.2 1236.3 L1668.2 1235.9 L1671.2 1235.6 L1674.2 1235.3 L1677.2 1235.0 L1680.2 1234.7 L1683.2 1234.4 L1686.2 1234.1 L1689.2 1233.8 L1692.2 1233.6 L1695.2 1233.3 L1698.2 1233.0 L1701.3 1232.8 L1704.3 1232.5 L1707.3 1232.3 L1710.3 1232.1 L1713.3 1231.8 L1716.3 1231.6 L1719.3 1231.4 L1722.3 1231.2 L1725.3 1231.0 L1728.3 1230.8 L1731.3 1230.6 L1734.3 1230.4 L1737.3 1230.3 L1740.3 1230.1 L1743.3 1229.9 L1746.3 1229.7 L1749.3 1229.6 L1752.3 1229.4 L1755.3 1229.3 L1758.3 1229.1 L1761.3 1229.0 L1764.3 1228.9 L1767.3 1228.7 L1770.3 1228.6 L1773.3 1228.5 L1776.3 1228.4 L1779.3 1228.2 L1782.3 1228.1 L1785.4 1228.0 L1788.4 1227.9 L1791.4 1227.8 L1794.4 1227.7 L1797.4 1227.6 L1800.4 1227.6 L1803.4 1227.5 L1806.4 1227.4 L1809.4 1227.3 L1812.4 1227.2 L1815.4 1227.2 L1818.4 1227.1 L1821.4 1227.0 L1824.4 1227.0 L1827.4 1226.9 L1830.4 1226.9 L1833.4 1226.8 L1836.4 1226.7 L1839.4 1226.7 L1842.4 1226.6 L1845.4 1226.6 L1848.4 1226.6 L1851.4 1226.5 L1854.4 1226.5 L1857.4 1226.4 L1860.4 1226.4 L1863.4 1226.4 L1866.4 1226.3 L1869.5 1226.3 L1872.5 1226.3 L1875.5 1226.2 L1878.5 1226.2 L1881.5 1226.2 L1884.5 1226.1 L1887.5 1226.1 L1890.5 1226.1 L1893.5 1226.1 L1896.5 1226.0 L1899.5 1226.0 L1902.5 1226.0 L1905.5 1226.0 L1908.5 1226.0 L1911.5 1225.9" stroke="#D95319"/>
</g>
<rect x="1324" y="910" width="22" height="530" fill="#FFC000" mask="url(#mB)"/>
<g stroke="#FFC000" stroke-dasharray="5.3 10.88" stroke-linecap="round" stroke-width="6.5" fill="none"><path d="M1327 42L1327 1437" stroke-dashoffset="4.83"/><path d="M1343 42L1343 1437" stroke-dashoffset="15.93"/><path d="M1327 42H1343" stroke-dashoffset="0"/></g>
<rect x="275" y="112.5" width="290.5" height="201.3" fill="#fff" stroke="#262626" stroke-width="6" stroke-linejoin="round"/>
<path d="M303 157H429" stroke="#0072BD" stroke-width="6" stroke-linecap="round"/>
<path d="M303 252H429" stroke="#D95319" stroke-width="6" stroke-linecap="round"/>
<text x="475.9" y="192.8" font-size="64" font-style="italic">Y</text>
<text x="511.9" y="203" font-size="44">1</text>
<text x="476" y="286.5" font-size="64" font-style="italic">Y</text>
<text x="510.1" y="295.7" font-size="44">2</text>
<text transform="translate(207.35 73.7) scale(1 1.05)" text-anchor="end" font-size="65">0</text>
<text transform="translate(207.35 436.5) scale(1 1.05)" text-anchor="end" font-size="65">-50</text>
<text transform="translate(207.35 739.7) scale(1 1.05)" text-anchor="end" font-size="65">-100</text>
<text transform="translate(207.35 842.5) scale(1 1.05)" text-anchor="end" font-size="65">90</text>
<text transform="translate(207.35 947.6) scale(1 1.05)" text-anchor="end" font-size="65">45</text>
<text transform="translate(207.35 1052.6) scale(1 1.05)" text-anchor="end" font-size="65">0</text>
<text transform="translate(207.35 1157.7) scale(1 1.05)" text-anchor="end" font-size="65">-45</text>
<text transform="translate(207.35 1262.8) scale(1 1.05)" text-anchor="end" font-size="65">-90</text>
<text transform="translate(207.35 1367.8) scale(1 1.05)" text-anchor="end" font-size="65">-135</text>
<text transform="translate(207.35 1472.9) scale(1 1.05)" text-anchor="end" font-size="65">-180</text>
<text transform="translate(184.0 1529.7) scale(1 1.07)" font-size="64">10</text><text x="247.6" y="1500" font-size="44">1</text>
<text transform="translate(746.0 1529.7) scale(1 1.07)" font-size="64">10</text><text x="808.2" y="1500" font-size="44">2</text>
<text transform="translate(1308.7 1529.7) scale(1 1.07)" font-size="64">10</text><text x="1370.8" y="1500" font-size="44">3</text>
<text transform="translate(1828.7 1529.7) scale(1 1.07)" font-size="64">10</text><text x="1891.8" y="1500" font-size="44">4</text>
<text x="883.8" y="1575" font-size="65">Frequency (Hz)</text>
<text transform="translate(72.3 591.4) rotate(-90)" font-size="64">Amplitude(dB)</text>
<text transform="translate(71.7 1221.2) rotate(-90)" font-size="65">Phase(°)</text>
</svg></body></html>
